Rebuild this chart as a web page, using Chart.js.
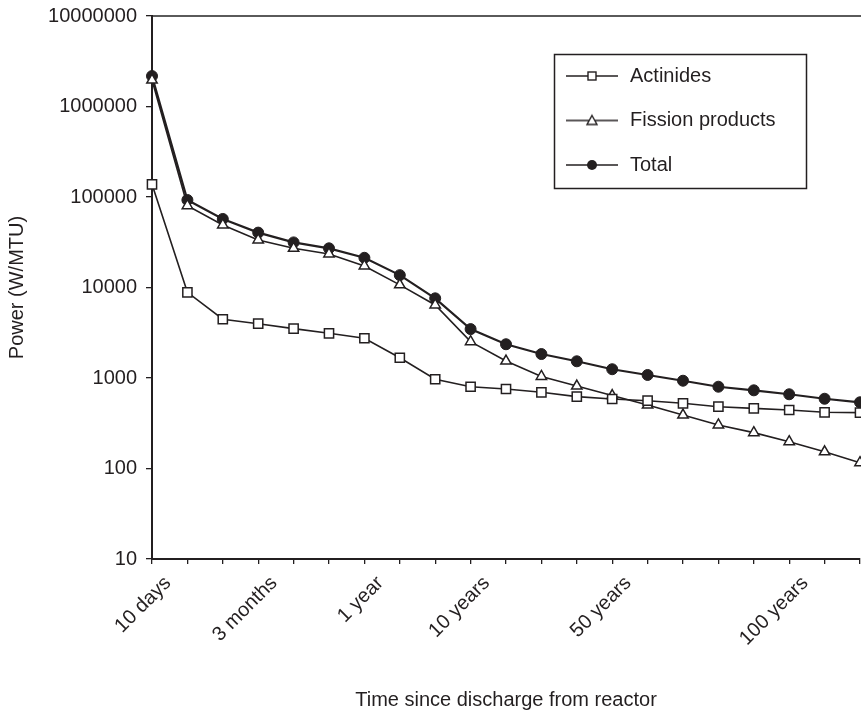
<!DOCTYPE html>
<html><head><meta charset="utf-8">
<script src="https://cdn.jsdelivr.net/npm/chart.js@4/dist/chart.umd.min.js"></script>
<style>html,body{margin:0;padding:0;overflow:hidden;background:#fff}canvas{display:block}</style>
</head><body>
<canvas id="c" width="868" height="714" style="width:868px;height:714px"></canvas>
<script>
const xLabels = ["10 days","","","3 months","","","1 year","","","10 years","","","","50 years","","","","","100 years","",""];
const yTickValues = [10,100,1000,10000,100000,1000000,10000000];
const seriesNames = ["Actinides","Fission products","Total"];
const actinides = [138000,8850,4460,3980,3510,3120,2750,1675,968,801,756,695,622,586,561,525,482,462,443,418,414];
const fission = [1960000,80200,49100,33500,27100,23500,17300,10700,6410,2520,1540,1040,815,640,502,390,303,249,198,153,116];
const total = [2170000,92700,57200,40400,31500,27100,21300,13700,7590,3470,2360,1840,1530,1250,1080,933,801,731,661,590,539];
const xTitle = "Time since discharge from reactor";
const yTitle = "Power (W/MTU)";

const INK = '#231f20';
Chart.defaults.font.family = "'Liberation Sans', Arial, sans-serif";
Chart.defaults.font.size = 20;
Chart.defaults.color = INK;

function makeIcon(kind){
  const cv = document.createElement('canvas');
  cv.width = 52; cv.height = 16;
  const g = cv.getContext('2d');
  g.strokeStyle = INK; g.lineWidth = 1.5;
  g.beginPath(); g.moveTo(0,8); g.lineTo(52,8); g.stroke();
  g.lineWidth = 1.4;
  if (kind === 'rect'){
    g.fillStyle = '#fff'; g.fillRect(22,4,8,8); g.strokeRect(22,4,8,8);
  } else if (kind === 'triangle'){
    g.fillStyle = '#fff'; g.beginPath(); g.moveTo(26,3); g.lineTo(31,12); g.lineTo(21,12); g.closePath(); g.fill(); g.stroke();
  } else {
    g.fillStyle = INK; g.beginPath(); g.arc(26,8,5,0,Math.PI*2); g.fill();
  }
  return cv;
}
const legendIcons = [makeIcon('rect'), makeIcon('triangle'), makeIcon('circle')];

const legendPlace = {
  id: 'legendPlace',
  afterLayout(chart){
    const lg = chart.legend; if (!lg) return;
    const pad = lg.options.labels.padding;
    lg.left = 564 - pad; lg.right = lg.left + 300;
    lg.top = 76 - 10 - pad; lg.bottom = lg.top + 400;
  },
  afterDraw(chart){
    const ctx = chart.ctx;
    ctx.save();
    ctx.strokeStyle = INK; ctx.lineWidth = 1.5;
    ctx.strokeRect(554.5, 54.5, 252, 134);
    ctx.restore();
  }
};

new Chart(document.getElementById('c'), {
  type: 'line',
  data: {
    labels: xLabels,
    datasets: [
      { label: seriesNames[0], data: actinides, borderColor: INK, borderWidth: 1.6, pointStyle: 'rect', pointRadius: 6.5, pointBorderWidth: 1.5, pointBackgroundColor: '#fff', pointBorderColor: INK, tension: 0 },
      { label: seriesNames[1], data: fission, borderColor: INK, borderWidth: 1.6, pointStyle: 'triangle', pointRadius: 6, pointBorderWidth: 1.5, pointBackgroundColor: '#fff', pointBorderColor: INK, tension: 0 },
      { label: seriesNames[2], data: total, borderColor: INK, borderWidth: 2.2, pointStyle: 'circle', pointRadius: 5.5, pointBorderWidth: 1, pointBackgroundColor: INK, pointBorderColor: INK, tension: 0 }
    ]
  },
  options: {
    responsive: false,
    animation: false,
    devicePixelRatio: 1,
    layout: { padding: { top: 16, right: 2.5, bottom: 0, left: 0 } },
    plugins: {
      legend: {
        position: 'chartArea',
        align: 'start',
        labels: {
          usePointStyle: true,
          pointStyleWidth: 56,
          padding: 24.5,
          color: INK,
          font: { size: 20 },
          generateLabels(chart){
            const items = Chart.defaults.plugins.legend.labels.generateLabels(chart);
            items.forEach((it,i)=>{ it.pointStyle = legendIcons[i]; it.rotation = 0; });
            return items;
          }
        }
      },
      tooltip: { enabled: false }
    },
    scales: {
      x: {
        type: 'category',
        offset: false,
        grid: { display: true, drawOnChartArea: false, drawTicks: true, tickLength: 5, color: INK, lineWidth: 1.3 },
        border: { display: true, color: INK, width: 2 },
        ticks: { autoSkip: false, maxRotation: 45, minRotation: 45, labelOffset: 16, padding: 7.5, color: INK, font: { size: 20 } },
        title: { display: true, text: xTitle, color: INK, font: { size: 20 }, padding: { top: 0, bottom: 2 } },
        afterFit(s){ s.height = 155; s.paddingLeft = 0; s.paddingRight = 0; }
      },
      xTop: {
        type: 'linear',
        position: 'top',
        display: true,
        min: 0, max: 1,
        grid: { display: false },
        ticks: { display: false },
        border: { display: true, color: '#5a5a5a', width: 2 },
        afterFit(s){ s.height = 0; s.paddingLeft = 0; s.paddingRight = 0; }
      },
      y: {
        type: 'logarithmic',
        min: 10,
        max: 10000000,
        afterBuildTicks(s){ s.ticks = yTickValues.map(v => ({ value: v })); },
        grid: { display: true, drawOnChartArea: false, drawTicks: true, tickLength: 6, color: INK, lineWidth: 1.3 },
        border: { display: true, color: INK, width: 2 },
        ticks: { padding: 9, color: INK, font: { size: 20 }, callback: (v) => String(v) },
        title: { display: true, text: yTitle, color: INK, font: { size: 20 }, padding: { top: 5.5, bottom: 0 } },
        afterFit(s){ s.width = 152; s.paddingTop = 0; s.paddingBottom = 0; }
      }
    }
  },
  plugins: [legendPlace]
});
</script>
</body></html>
